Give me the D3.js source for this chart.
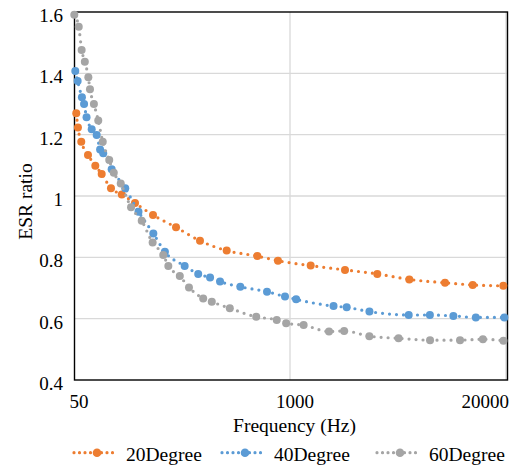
<!DOCTYPE html>
<html>
<head>
<meta charset="utf-8">
<script src="https://cdn.jsdelivr.net/npm/d3@7"></script>
<style>
  body { margin: 0; background: #fff; }
  svg { display: block; }
  text { font-family: 'Liberation Serif', 'Times New Roman', Tinos, 'DejaVu Serif', serif; fill: #000; }
</style>
</head>
<body>
<div id="chart"></div>
<script>
// frequency (Hz) and ESR ratio
var freq20 = [51.6, 52.8, 55.3, 60.7, 67.2, 73.4, 83.5, 97, 116.5, 149.6, 205.8, 287, 415.6, 635.7, 846.6, 1332, 2144, 3356, 5231, 8583, 12603, 19270];
var esr20 = [1.27, 1.223, 1.177, 1.134, 1.099, 1.072, 1.025, 1.005, 0.977, 0.938, 0.898, 0.854, 0.822, 0.804, 0.789, 0.773, 0.759, 0.746, 0.728, 0.717, 0.710, 0.707];

var freq40 = [50.9, 52.6, 55.8, 57.5, 59.5, 63.9, 68.5, 71.8, 75.0, 84.3, 101.8, 122.3, 150.2, 176.4, 232, 280, 330, 379, 502, 727, 933, 1089, 1829, 2196, 3009, 5189, 6961, 9640, 13162, 19548];
var esr40 = [1.408, 1.375, 1.322, 1.300, 1.257, 1.218, 1.199, 1.152, 1.139, 1.087, 1.025, 0.949, 0.878, 0.818, 0.772, 0.746, 0.734, 0.721, 0.704, 0.688, 0.672, 0.663, 0.641, 0.637, 0.623, 0.612, 0.612, 0.609, 0.604, 0.604];

var freq60 = [50.2, 53.4, 55.6, 58.1, 61.0, 62.4, 65.9, 70.0, 74.5, 81.5, 86.8, 95.6, 110.3, 127.9, 148.8, 172.4, 185, 216.9, 246.3, 300, 338, 434, 626, 832, 948, 1208, 1717, 2118, 3006, 4507, 6974, 10573, 14514, 19310];
var esr60 = [1.591, 1.552, 1.476, 1.438, 1.387, 1.348, 1.300, 1.246, 1.177, 1.117, 1.076, 1.041, 0.963, 0.919, 0.848, 0.808, 0.772, 0.739, 0.702, 0.666, 0.655, 0.634, 0.606, 0.596, 0.585, 0.579, 0.558, 0.560, 0.543, 0.536, 0.530, 0.530, 0.533, 0.528];

var seriesNames = ['20Degree', '40Degree', '60Degree'];
var xTicks = [50, 1000, 20000];
var yTicks = [0.4, 0.6, 0.8, 1.0, 1.2, 1.4, 1.6];

var series = [
  { name: seriesNames[0], color: '#ED7D31', f: freq20, v: esr20 },
  { name: seriesNames[1], color: '#5B9BD5', f: freq40, v: esr40 },
  { name: seriesNames[2], color: '#A5A5A5', f: freq60, v: esr60 }
];

var width = 509, height = 468;
var plot = { left: 74, right: 506, top: 12, bottom: 380 };
var serif = "'Liberation Serif', 'Times New Roman', Tinos, 'DejaVu Serif', serif";

var x = d3.scaleLog().base(20).domain([50, 20000]).range([plot.left, plot.right]);
var y = d3.scaleLinear().domain([0.4, 1.6]).range([plot.bottom, plot.top]);

var svg = d3.select('#chart').append('svg')
  .attr('width', width)
  .attr('height', height)
  .attr('font-family', serif);

// gridlines
svg.append('g')
  .selectAll('line')
  .data(yTicks.slice(1, -1))
  .enter().append('line')
  .attr('x1', plot.left).attr('x2', plot.right + 1.5)
  .attr('y1', function(d) { return y(d); })
  .attr('y2', function(d) { return y(d); })
  .attr('stroke', '#d9d9d9')
  .attr('stroke-width', 1.3);
svg.append('g')
  .selectAll('line')
  .data(xTicks.slice(1))
  .enter().append('line')
  .attr('x1', function(d) { return x(d); })
  .attr('x2', function(d) { return x(d); })
  .attr('y1', plot.top).attr('y2', plot.bottom)
  .attr('stroke', '#d9d9d9')
  .attr('stroke-width', 1.3);

// plot frame
svg.append('rect')
  .attr('x', plot.left + 0.5).attr('y', plot.top)
  .attr('width', plot.right + 1.5 - plot.left - 0.5)
  .attr('height', plot.bottom - plot.top)
  .attr('fill', 'none')
  .attr('stroke', '#000')
  .attr('stroke-width', 1.4);

// axes
var xAxis = d3.axisBottom(x)
  .tickValues(xTicks)
  .tickFormat(d3.format('d'))
  .tickSize(0)
  .tickPadding(14.5);
var gx = svg.append('g')
  .attr('transform', 'translate(0,' + plot.bottom + ')')
  .call(xAxis)
  .attr('font-family', serif)
  .attr('font-size', 19);
gx.select('.domain').remove();
gx.selectAll('.tick text').attr('dx', 4.5);
gx.selectAll('.tick text').filter(function(d) { return d === 20000; })
  .attr('text-anchor', 'end')
  .attr('dx', 0)
  .attr('x', width - 0.5 - x(20000));

var yAxis = d3.axisLeft(y)
  .tickValues(yTicks)
  .tickFormat(function(d) { return String(+d.toFixed(1)); })
  .tickSize(0)
  .tickPadding(11);
var gy = svg.append('g')
  .attr('transform', 'translate(' + plot.left + ',0)')
  .call(yAxis)
  .attr('font-family', serif)
  .attr('font-size', 19);
gy.select('.domain').remove();
gy.selectAll('.tick text').attr('dy', '0.5em');

// axis titles
svg.append('text')
  .attr('x', 294.5).attr('y', 431.5)
  .attr('text-anchor', 'middle')
  .attr('font-size', 19.5)
  .text('Frequency (Hz)');
svg.append('text')
  .attr('transform', 'translate(32,201.5) rotate(-90)')
  .attr('text-anchor', 'middle')
  .attr('font-size', 19.5)
  .text('ESR ratio');

// series: dotted line plus round markers
var line = d3.line()
  .x(function(d) { return x(d[0]); })
  .y(function(d) { return y(d[1]); })
  .curve(d3.curveMonotoneX);

series.forEach(function(s) {
  var pts = s.f.map(function(f, i) { return [f, s.v[i]]; });
  var g = svg.append('g');
  g.append('path')
    .datum(pts)
    .attr('d', line)
    .attr('fill', 'none')
    .attr('stroke', s.color)
    .attr('stroke-width', 3.2)
    .attr('stroke-linecap', 'round')
    .attr('stroke-dasharray', '0 7');
  g.selectAll('circle')
    .data(pts)
    .enter().append('circle')
    .attr('cx', function(d) { return x(d[0]); })
    .attr('cy', function(d) { return y(d[1]); })
    .attr('r', 4)
    .attr('fill', s.color);
});

// legend
var legendX = [74, 222, 377];
var legend = svg.append('g');
series.forEach(function(s, i) {
  var lx = legendX[i];
  legend.append('line')
    .attr('x1', lx).attr('x2', lx + 44)
    .attr('y1', 452.7).attr('y2', 452.7)
    .attr('stroke', s.color)
    .attr('stroke-width', 3.2)
    .attr('stroke-linecap', 'round')
    .attr('stroke-dasharray', '0 5.5');
  legend.append('circle')
    .attr('cx', lx + 23).attr('cy', 452.7)
    .attr('r', 4.3)
    .attr('fill', s.color);
  legend.append('text')
    .attr('x', lx + 52).attr('y', 461)
    .attr('font-size', 19.5)
    .text(s.name);
});
</script>
</body>
</html>
